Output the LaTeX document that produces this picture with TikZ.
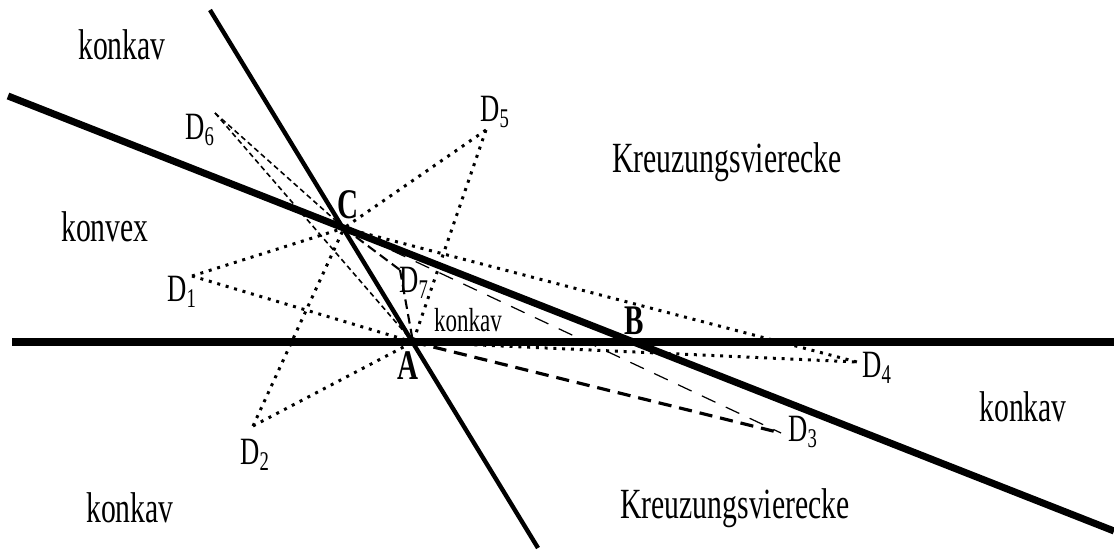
\documentclass[tikz,border=0pt]{standalone}
\usepackage{fontspec}
\setmainfont[FakeStretch=0.69]{Liberation Serif}
\usetikzlibrary{positioning}

\begin{document}
\begin{tikzpicture}[
    x=0.02cm, y=-0.02cm,
    region/.style={font=\fontsize{24.5}{27}\selectfont, inner sep=0pt},
    smallregion/.style={font=\fontsize{19}{21}\selectfont, inner sep=0pt},
    ptlabel/.style={font=\fontsize{22}{24}\selectfont, inner sep=0pt},
    vtxlabel/.style={font=\fontsize{24}{26}\selectfont\bfseries, inner sep=0pt},
    mainline/.style={line width=4pt},
    sideline/.style={line width=2.5pt},
    dotline/.style={line width=1.7pt, dash pattern=on 1.7pt off 3.3pt},
    shortdash/.style={line width=0.9pt, dash pattern=on 3pt off 2pt},
    middash/.style={line width=1.2pt, dash pattern=on 5.5pt off 3pt},
    longdash/.style={line width=1.8pt, dash pattern=on 7.5pt off 4.5pt},
    thindash/.style={line width=0.7pt, dash pattern=on 8.5pt off 6.5pt}
]
    \useasboundingbox (0,0) rectangle (1114,550);

    % Vertices and line ends
    \coordinate (A) at (413,342);
    \coordinate (B) at (634,342);
    \coordinate (C) at (344,228);
    \coordinate (ABw) at (12,342);
    \coordinate (ABe) at (1114,342);
    \coordinate (CBw) at (8,96);
    \coordinate (CBe) at (1114,531);
    \coordinate (CAn) at (210,10);
    \coordinate (CAs) at (538,548);

    % Fourth points
    \coordinate (D1) at (192,276);
    \coordinate (D2) at (253,426);
    \coordinate (D3) at (781,433);
    \coordinate (D4) at (857,362);
    \coordinate (D5) at (486,130);
    \coordinate (D6) at (215,113);
    \coordinate (D7) at (400,270);

    % Quadrilateral sides
    \draw[dotline] (D1) -- (C);
    \draw[dotline] (D1) -- (A);
    \draw[dotline] (D2) -- (C);
    \draw[dotline] (D2) -- (A);
    \draw[thindash] (C) -- (D3);
    \draw[longdash] (A) -- (D3);
    \draw[dotline] (C) -- (D4);
    \draw[dotline] (A) -- (D4);
    \draw[dotline] (D5) -- (C);
    \draw[dotline] (D5) -- (A);
    \draw[shortdash] (D6) -- (C);
    \draw[shortdash] (D6) -- (A);
    \draw[middash] (C) -- (D7);
    \draw[middash] (D7) -- (A);

    % Lines
    \draw[mainline] (ABw) -- (ABe);
    \draw[mainline] (CBw) -- (CBe);
    \draw[sideline] (CAn) -- (CAs);

    % Labels
    \node[vtxlabel] (labA) at (408,366) {A};
    \node[vtxlabel] (labB) at (634,321) {B};
    \node[vtxlabel] (labC) at (348,205) {C};
    \node[ptlabel] (labD1) at (182,292) {D\textsubscript{1}};
    \node[ptlabel] (labD2) at (255,455) {D\textsubscript{2}};
    \node[ptlabel] (labD3) at (803,432) {D\textsubscript{3}};
    \node[ptlabel] (labD4) at (877,368) {D\textsubscript{4}};
    \node[ptlabel] (labD5) at (495,112) {D\textsubscript{5}};
    \node[ptlabel] (labD6) at (200,130) {D\textsubscript{6}};
    \node[ptlabel] (labD7) at (414,283) {D\textsubscript{7}};

    \node[region] (konkavNW) at (122,45) {konkav};
    \node[region] (konvex) at (105,227) {konvex};
    \node[region] (konkavSW) at (130,508) {konkav};
    \node[region] (kreuzN) at (727,162) {Kreuzungsvierecke};
    \node[region] (kreuzS) at (735,508) {Kreuzungsvierecke};
    \node[region] (konkavE) at (1023,407) {konkav};
    \node[smallregion] (konkavIn) at (468,320) {konkav};
\end{tikzpicture}
\end{document}
